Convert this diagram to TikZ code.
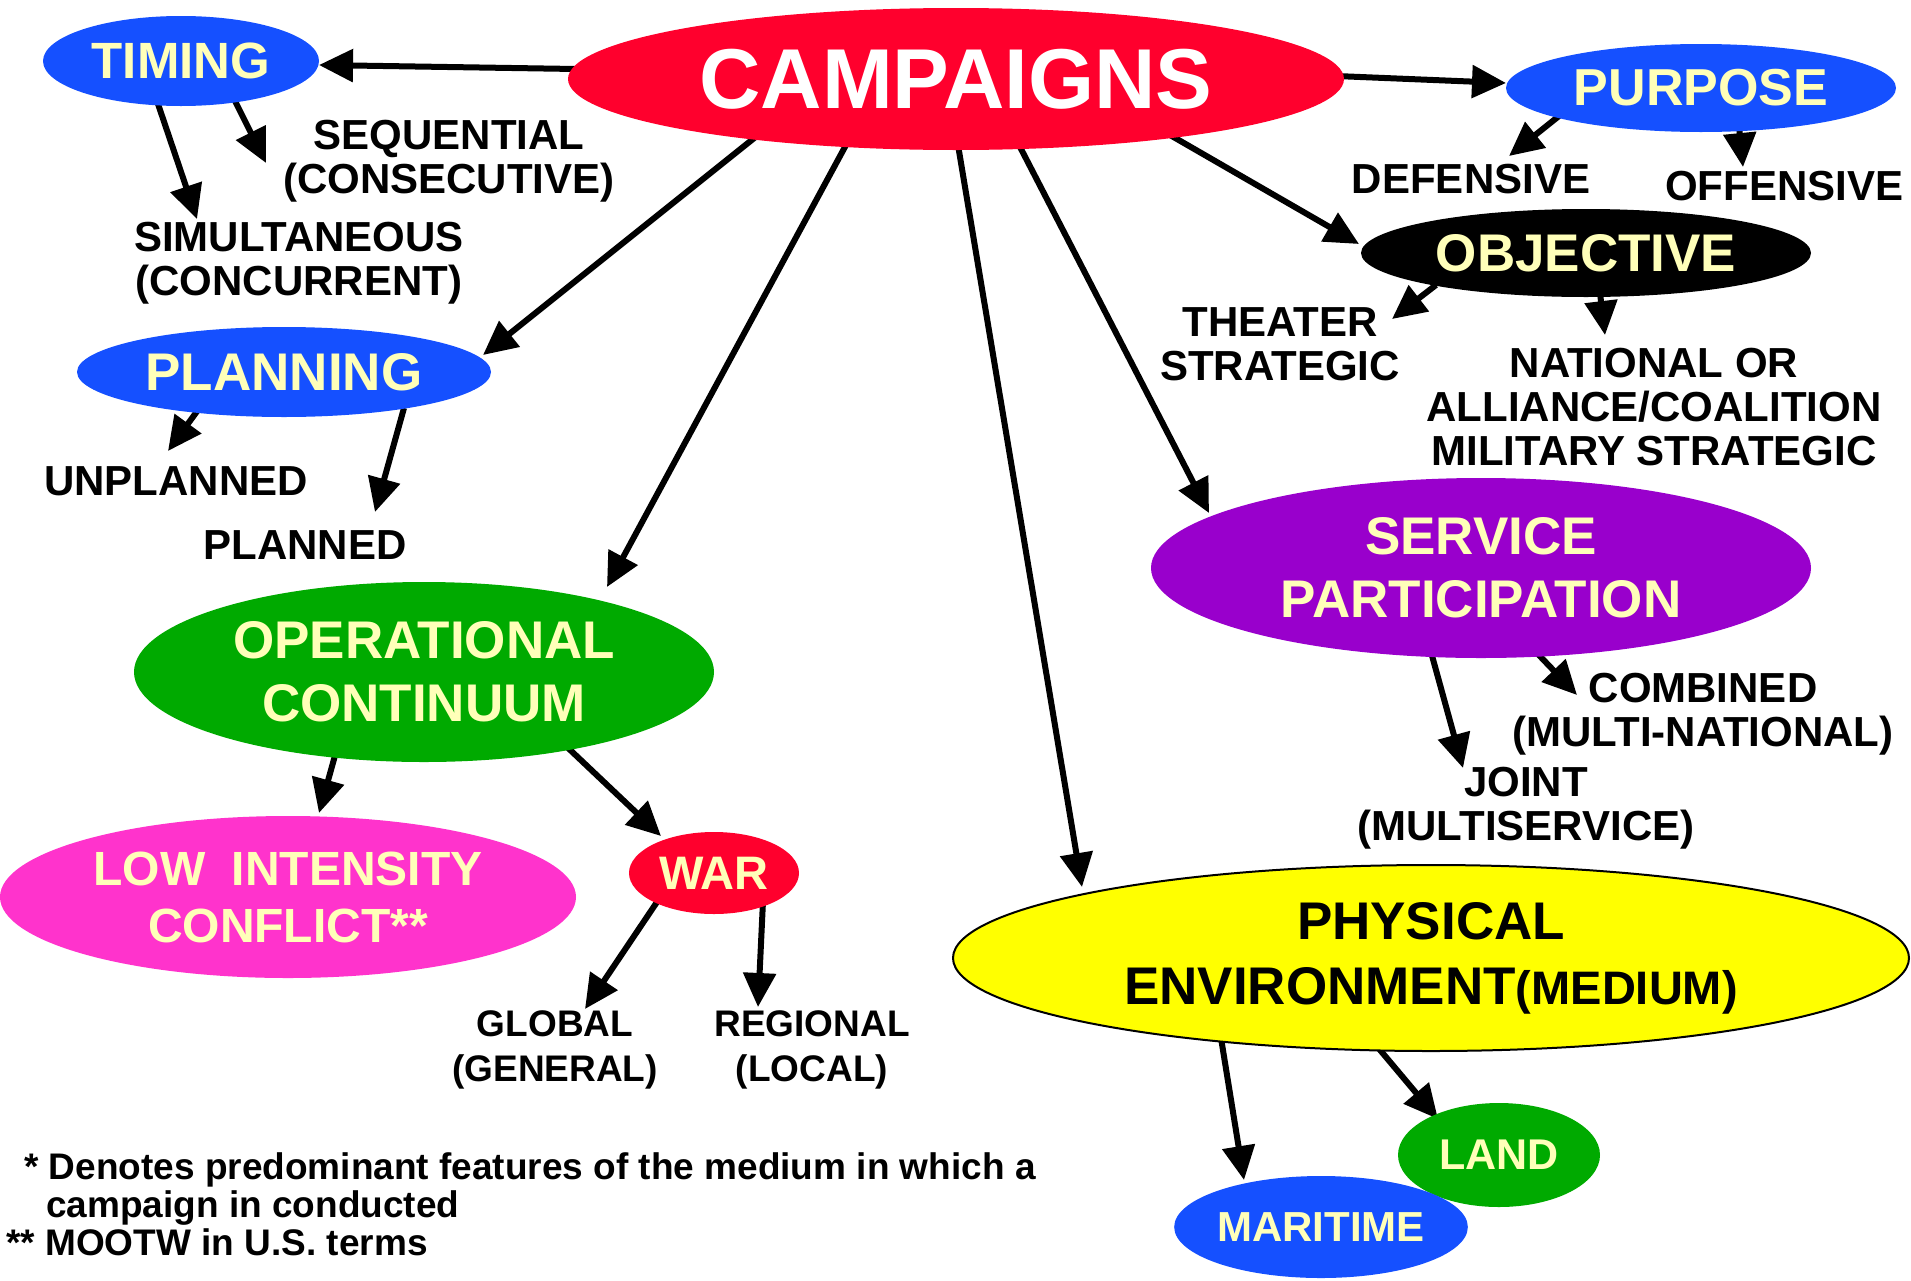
\documentclass[tikz,border=0pt]{standalone}
\usepackage{fontspec}
\setmainfont{Liberation Sans}
\usetikzlibrary{arrows.meta,shapes.geometric,calc,backgrounds}
\definecolor{cblue}{RGB}{21,80,255}
\definecolor{cred}{RGB}{255,0,45}
\definecolor{cgreen}{RGB}{0,170,0}
\definecolor{cpurple}{RGB}{153,0,204}
\definecolor{cpink}{RGB}{255,51,204}
\definecolor{cyellow}{RGB}{255,255,0}
\definecolor{ctext}{RGB}{255,255,185}
\begin{document}
\begin{tikzpicture}[x=1pt,y=-1pt,
  ell/.style={ellipse, inner sep=0pt, align=center, text=ctext},
  big/.style={font=\bfseries\fontsize{53}{63}\selectfont},
  lbl/.style={align=center, inner sep=0pt, font=\bfseries\fontsize{42}{44}\selectfont},
  lbs/.style={align=center, inner sep=0pt, font=\bfseries\fontsize{37}{45}\selectfont},
  arr/.style={line width=6pt, -{Triangle[length=34pt,width=32pt]}},
]
\useasboundingbox (0,0) rectangle (1911,1280);

% ellipse nodes
\node[ell, fill=cred, text=white, minimum width=776pt, minimum height=142pt,
      font=\bfseries\fontsize{85}{90}\selectfont] (camp) at (956,79) {CAMPAIGNS};
\node[ell, fill=cblue, minimum width=276pt, minimum height=90pt,
      font=\bfseries\fontsize{51}{60}\selectfont] (timing) at (181,61) {TIMING};
\node[ell, fill=cblue, minimum width=390pt, minimum height=88pt,
      font=\bfseries\fontsize{52}{60}\selectfont] (purpose) at (1701,88) {PURPOSE};
\node[ell, fill=black, minimum width=450pt, minimum height=88pt,
      font=\bfseries\fontsize{53}{60}\selectfont] (objective) at (1586,253) {OBJECTIVE};
\node[ell, fill=cblue, minimum width=414pt, minimum height=90pt,
      font=\bfseries\fontsize{53}{60}\selectfont] (planning) at (284,372) {PLANNING};
\node[ell, big, fill=cgreen, minimum width=580pt, minimum height=180pt] (opcont) at (424,672) {OPERATIONAL\\CONTINUUM};
\node[ell, fill=cpink, minimum width=576pt, minimum height=162pt,
      font=\bfseries\fontsize{48}{57}\selectfont] (lic) at (288,897) {LOW\ \ INTENSITY\\CONFLICT**};
\node[ell, fill=cred, minimum width=170pt, minimum height=82pt,
      font=\bfseries\fontsize{47}{55}\selectfont] (war) at (714,873) {WAR};
\node[ell, big, fill=cpurple, minimum width=660pt, minimum height=180pt] (service) at (1481,568) {SERVICE\\PARTICIPATION};
\node[ell, big, fill=cyellow, draw=black, line width=2pt, text=black, minimum width=956pt, minimum height=186pt,
      font=\bfseries\fontsize{53}{65}\selectfont] (physical) at (1431,958) {PHYSICAL\\ENVIRONMENT{\fontsize{47}{50}\selectfont(MEDIUM)}};
\node[ell, fill=cgreen, minimum width=202pt, minimum height=104pt,
      font=\bfseries\fontsize{43}{50}\selectfont] (land) at (1499,1155) {LAND};
\node[ell, fill=cblue, minimum width=286pt, minimum height=102pt,
      font=\bfseries\fontsize{42}{50}\selectfont] (maritime) at (1321,1227) {MARITIME};

% labels
\node[lbl] (seq) at (449,161) {SEQUENTIAL\\(CONSECUTIVE)};
\node[lbl] (sim) at (299,263) {SIMULTANEOUS\\(CONCURRENT)};
\node[lbl] (unpl) at (176,481) {UNPLANNED};
\node[lbl] (plan) at (305,545) {PLANNED};
\node[lbl] (def) at (1471,179) {DEFENSIVE};
\node[lbl] (off) at (1784,186) {OFFENSIVE};
\node[lbl] (thea) at (1280,344) {THEATER\\STRATEGIC};
\node[lbl] (nat) at (1654,407) {NATIONAL OR\\ALLIANCE/COALITION\\MILITARY STRATEGIC};
\node[lbl] (comb) at (1703,714) {COMBINED\\(MULTI-NATIONAL)};
\node[lbl] (joint) at (1526,808) {JOINT\\(MULTISERVICE)};
\node[lbs] (glob) at (555,1050) {GLOBAL\\(GENERAL)};
\node[lbs] (reg) at (812,1050) {REGIONAL\\(LOCAL)};
\node[anchor=north west, align=left, inner sep=0pt, font=\bfseries\fontsize{37}{38}\selectfont] (foot) at (6,1152)
  {\hspace*{18pt}* Denotes predominant features of the medium in which a\\\hspace*{40pt}campaign in conducted\\** MOOTW in U.S. terms};

\begin{scope}[on background layer]
\fill[white] (0,0) rectangle (1911,1280);
\draw[arr] ($(camp)+(-380,-10)$) -- ($(timing)+(138,4)$);
\draw[arr] ($(camp)+(380,-3)$) -- ($(purpose)+(-195,-5)$);
\draw[arr] ($(camp)+(-198,56)$) -- ($(planning)+(199,-17)$);
\draw[arr] ($(camp)+(-110,66)$) -- ($(opcont)+(183,-85)$);
\draw[arr] ($(camp)+(2,66)$) -- ($(physical)+(-349,-71)$);
\draw[arr] ($(camp)+(63,66)$) -- ($(service)+(-272,-55)$);
\draw[arr] ($(camp)+(214,56)$) -- ($(objective)+(-227,-9)$);
\draw[arr] ($(timing)+(-24,40)$) -- ($(sim)+(-102,-44)$);
\draw[arr] ($(timing)+(52,36)$) -- ($(seq)+(-183,2)$);
\draw[arr] ($(purpose)+(-142,28)$) -- ($(def)+(38,-23)$);
\draw[arr] ($(purpose)+(38,38)$) -- ($(off)+(-41,-19)$);
\draw[arr] ($(objective)+(-150,32)$) -- ($(thea)+(112,-25)$);
\draw[arr] ($(objective)+(14,40)$) -- ($(nat)+(-49,-72)$);
\draw[arr] ($(planning)+(-86,38)$) -- ($(unpl)+(-8,-30)$);
\draw[arr] ($(planning)+(120,36)$) -- ($(plan)+(70,-33)$);
\draw[arr] ($(opcont)+(-88,80)$) -- ($(lic)+(31,-84)$);
\draw[arr] ($(opcont)+(142,74)$) -- ($(war)+(-53,-37)$);
\draw[arr] ($(war)+(-55,26)$) -- ($(glob)+(30,-41)$);
\draw[arr] ($(war)+(49,28)$) -- ($(reg)+(-54,-43)$);
\draw[arr] ($(service)+(-50,84)$) -- ($(joint)+(-63,-40)$);
\draw[arr] ($(service)+(55,84)$) -- ($(comb)+(-126,-19)$);
\draw[arr] ($(physical)+(-210,80)$) -- ($(maritime)+(-77,-47)$);
\draw[arr] ($(physical)+(-56,86)$) -- ($(land)+(-61,-36)$);
\end{scope}
\end{tikzpicture}
\end{document}
